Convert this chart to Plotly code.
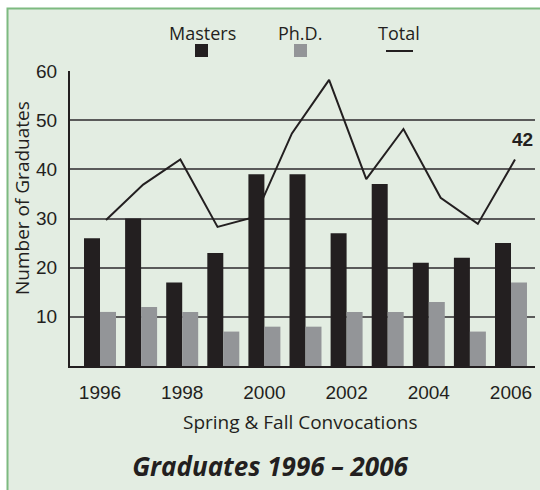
import plotly.graph_objects as go

# ---- data ----
years = [1996, 1997, 1998, 1999, 2000, 2001, 2002, 2003, 2004, 2005, 2006]
masters = [26, 30, 17, 23, 39, 39, 27, 37, 21, 22, 25]
phd = [11, 12, 11, 7, 8, 8, 11, 11, 13, 7, 17]
total = [29.7, 36.9, 42, 28.3, 30.3, 47.3, 58.2, 38, 48.2, 34.2, 28.9, 42]
x_ticks = [1996, 1998, 2000, 2002, 2004, 2006]
x_ticktext = ["1996", "1998", "2000", "2002", "2004", "2006"]
y_ticks = [10, 20, 30, 40, 50, 60]
total_label = "42"

W, H = 540, 490
L, R, T, B = 70, 535, 71, 366  # plot area pixels


def px(x):
    return (x - L) / (R - L)


def py(y):
    return (B - y) / (B - T)


GEO = "'Open Sans', Lato, sans-serif"
NARROW = "'Liberation Sans', Arial, sans-serif"
DARK = "#231F20"
GRAY = "#939598"

fig = go.Figure()

# Total line (index axis, drawn beneath bars)
fig.add_trace(go.Scatter(
    x=list(range(len(total))), y=total, mode="lines",
    line=dict(color=DARK, width=2), xaxis="x", yaxis="y",
    showlegend=False, hoverinfo="skip"))

bw = 0.389
fig.add_trace(go.Bar(x=years, y=masters, xaxis="x2", yaxis="y",
                     marker=dict(color=DARK, line=dict(width=0)),
                     width=bw, offset=-bw, showlegend=False))
fig.add_trace(go.Bar(x=years, y=phd, xaxis="x2", yaxis="y",
                     marker=dict(color=GRAY, line=dict(width=0)),
                     width=bw, offset=0, showlegend=False))

n = len(total)
span = 409.0 / (n - 1)  # px per line step
fig.update_layout(
    width=W, height=H,
    margin=dict(l=L, r=W - R, t=T, b=H - B),
    paper_bgcolor="white",
    plot_bgcolor="rgba(0,0,0,0)",
    barmode="overlay",
    showlegend=False,
    xaxis=dict(range=[-(106 - L) / span, (n - 1) + (R - 515) / span],
               visible=False, fixedrange=True),
    xaxis2=dict(overlaying="x", anchor="y", side="bottom",
                range=[1996 - (100 - L) / 41.1, 2006 + (R - 511) / 41.1],
                tickvals=x_ticks, ticktext=x_ticktext,
                tickfont=dict(family=NARROW, size=19, color=DARK),
                showline=True, linecolor=DARK, linewidth=2,
                showgrid=False, ticks="", ticklabelstandoff=8,
                zeroline=False),
    yaxis=dict(range=[0, 60], tickvals=y_ticks,
               tickfont=dict(family=NARROW, size=19, color=DARK),
               showline=True, linecolor=DARK, linewidth=2,
               showgrid=True, gridcolor="#5a5a5a", gridwidth=1.5,
               ticks="", ticklabelstandoff=7, zeroline=False),
    title=dict(text="<b><i>Graduates 1996 – 2006</i></b>",
               x=0.5, xref="container",
               y=1 - 467 / H, yref="container", xanchor="center", yanchor="middle",
               font=dict(family=GEO, size=26, color=DARK)),
)

shapes = []
# panel frame
shapes.append(dict(type="rect", xref="paper", yref="paper", layer="below",
                   x0=px(7.5), x1=px(560), y0=py(8.5), y1=py(520),
                   fillcolor="#E3EDE2", line=dict(color="#7DBA80", width=2)))
# legend swatches
shapes.append(dict(type="rect", xref="paper", yref="paper",
                   x0=px(195), x1=px(208), y0=py(57), y1=py(44),
                   fillcolor=DARK, line=dict(width=0)))
shapes.append(dict(type="rect", xref="paper", yref="paper",
                   x0=px(294), x1=px(307), y0=py(57), y1=py(44),
                   fillcolor=GRAY, line=dict(width=0)))
shapes.append(dict(type="line", xref="paper", yref="paper",
                   x0=px(386), x1=px(413), y0=py(51), y1=py(51),
                   line=dict(color=DARK, width=2)))
fig.update_layout(shapes=shapes)

ann = []
for label, cx in [("Masters", 202), ("Ph.D.", 300), ("Total", 399)]:
    ann.append(dict(text=label, xref="paper", yref="paper", x=px(cx), y=py(33),
                    xanchor="center", yanchor="middle", showarrow=False,
                    font=dict(family=GEO, size=18, color=DARK)))
ann.append(dict(text="Number of Graduates", xref="paper", yref="paper",
                x=px(22), y=py(198), textangle=-90, xanchor="center",
                yanchor="middle", showarrow=False,
                font=dict(family=GEO, size=19, color=DARK)))
ann.append(dict(text="Spring & Fall Convocations", xref="paper", yref="paper",
                x=px(300), y=py(422), xanchor="center", yanchor="middle",
                showarrow=False, font=dict(family=GEO, size=19, color=DARK)))
ann.append(dict(text="<b>" + total_label + "</b>", xref="x", yref="y",
                x=n - 1, y=total[-1], xshift=7, yshift=20,
                xanchor="center", yanchor="middle", showarrow=False,
                font=dict(family=NARROW, size=19, color=DARK)))
fig.update_layout(annotations=ann)

fig.write_html("out.html",
               config={"displayModeBar": False},
               post_script="document.body.style.margin='0';"
                           "document.body.style.overflow='hidden';")
